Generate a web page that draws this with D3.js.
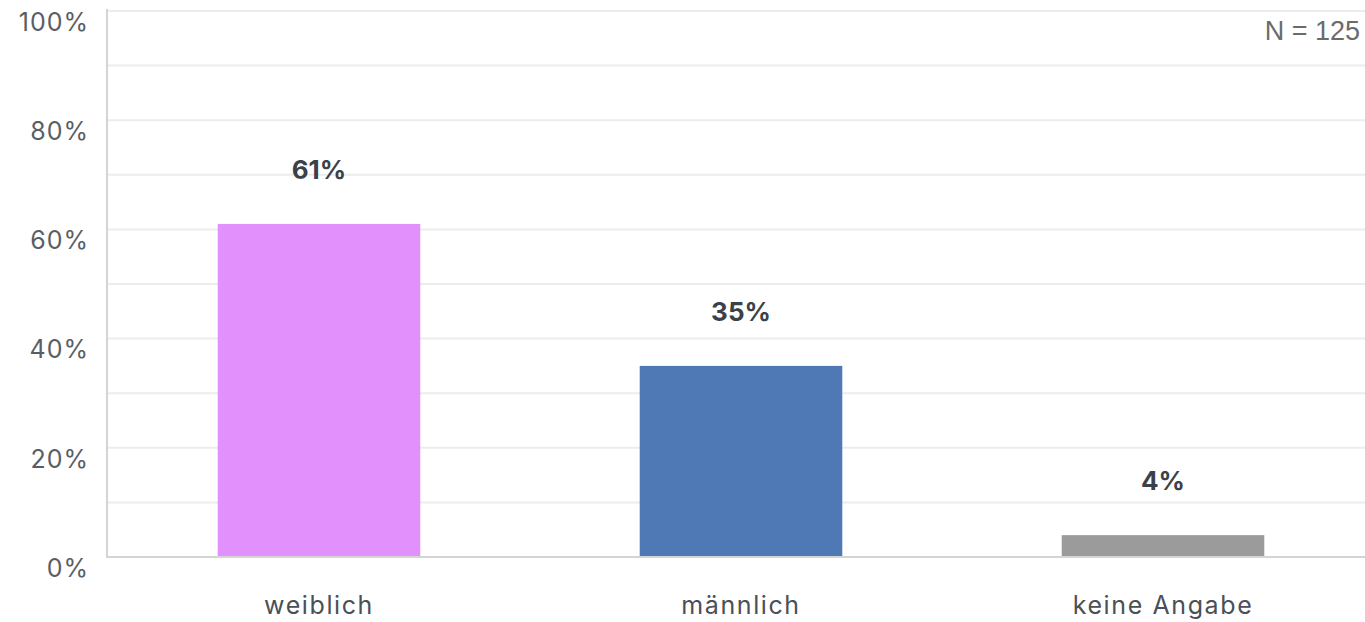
<!DOCTYPE html>
<html>
<head>
<meta charset="utf-8">
<script src="https://cdn.jsdelivr.net/npm/d3@7"></script>
<style>
  html, body { margin: 0; padding: 0; background: #fff; }
  svg { display: block; }
</style>
</head>
<body>
<div id="chart"></div>
<script>
  // data
  const categories = ["weiblich", "männlich", "keine Angabe"];
  const values = [61, 35, 4];
  const barColors = ["#e290fc", "#4e79b4", "#9b9b9b"];
  const tickValues = [0, 20, 40, 60, 80, 100];
  const gridValues = [10, 20, 30, 40, 50, 60, 70, 80, 90, 100];
  const sampleNote = "N = 125";

  const width = 1365, height = 622;
  const font = "Inter, 'Open Sans', sans-serif";

  const svg = d3.select("#chart").append("svg")
    .attr("width", width)
    .attr("height", height);

  const x = d3.scaleBand()
    .domain(categories)
    .range([108, 1374])
    .paddingInner(0.52)
    .paddingOuter(0.26);

  const y = d3.scaleLinear()
    .domain([0, 100])
    .range([557, 11]);

  // gridlines
  svg.append("g")
    .selectAll("line")
    .data(gridValues)
    .enter()
    .append("line")
    .attr("x1", 108)
    .attr("x2", width)
    .attr("y1", d => y(d))
    .attr("y2", d => y(d))
    .style("stroke", "#ececec")
    .style("stroke-width", 2);

  // y tick labels (sit a bit below their gridline, like the source)
  svg.append("g")
    .selectAll("text")
    .data(tickValues)
    .enter()
    .append("text")
    .attr("x", 89)
    .attr("y", d => y(d) + 11)
    .attr("dy", "0.35em")
    .attr("text-anchor", "end")
    .style("font-family", font)
    .style("font-size", "25px")
    .style("letter-spacing", "1px")
    .style("fill", "#5a5e63")
    .text(d => d + "%");

  // bars
  svg.append("g")
    .selectAll("rect")
    .data(values)
    .enter()
    .append("rect")
    .attr("x", (d, i) => x(categories[i]))
    .attr("width", x.bandwidth())
    .attr("y", d => y(d))
    .attr("height", d => y(0) - y(d))
    .style("fill", (d, i) => barColors[i]);

  // value labels
  svg.append("g")
    .selectAll("text")
    .data(values)
    .enter()
    .append("text")
    .attr("x", (d, i) => x(categories[i]) + x.bandwidth() / 2)
    .attr("y", d => y(d) - 54)
    .attr("dy", "0.35em")
    .attr("text-anchor", "middle")
    .style("font-family", font)
    .style("font-size", "26px")
    .style("font-weight", "700")
    .style("fill", "#3b4149")
    .text(d => d + "%");

  // axis lines
  svg.append("line")
    .attr("x1", 107).attr("x2", 107)
    .attr("y1", 9).attr("y2", y(0))
    .style("stroke", "#d4d4d4")
    .style("stroke-width", 2);

  svg.append("line")
    .attr("x1", 106).attr("x2", width)
    .attr("y1", y(0)).attr("y2", y(0))
    .style("stroke", "#d4d4d4")
    .style("stroke-width", 2);

  // category labels
  svg.append("g")
    .selectAll("text")
    .data(categories)
    .enter()
    .append("text")
    .attr("x", d => x(d) + x.bandwidth() / 2)
    .attr("y", 605)
    .attr("dy", "0.35em")
    .attr("text-anchor", "middle")
    .style("font-family", font)
    .style("font-size", "25px")
    .style("letter-spacing", "1.6px")
    .style("fill", "#4a5058")
    .text(d => d);

  // N note
  svg.append("text")
    .attr("x", 1360)
    .attr("y", 31)
    .attr("dy", "0.35em")
    .attr("text-anchor", "end")
    .style("font-family", "'Liberation Sans', Arial, sans-serif")
    .style("font-size", "27px")
    .style("fill", "#6b6b6b")
    .text(sampleNote);
</script>
</body>
</html>
